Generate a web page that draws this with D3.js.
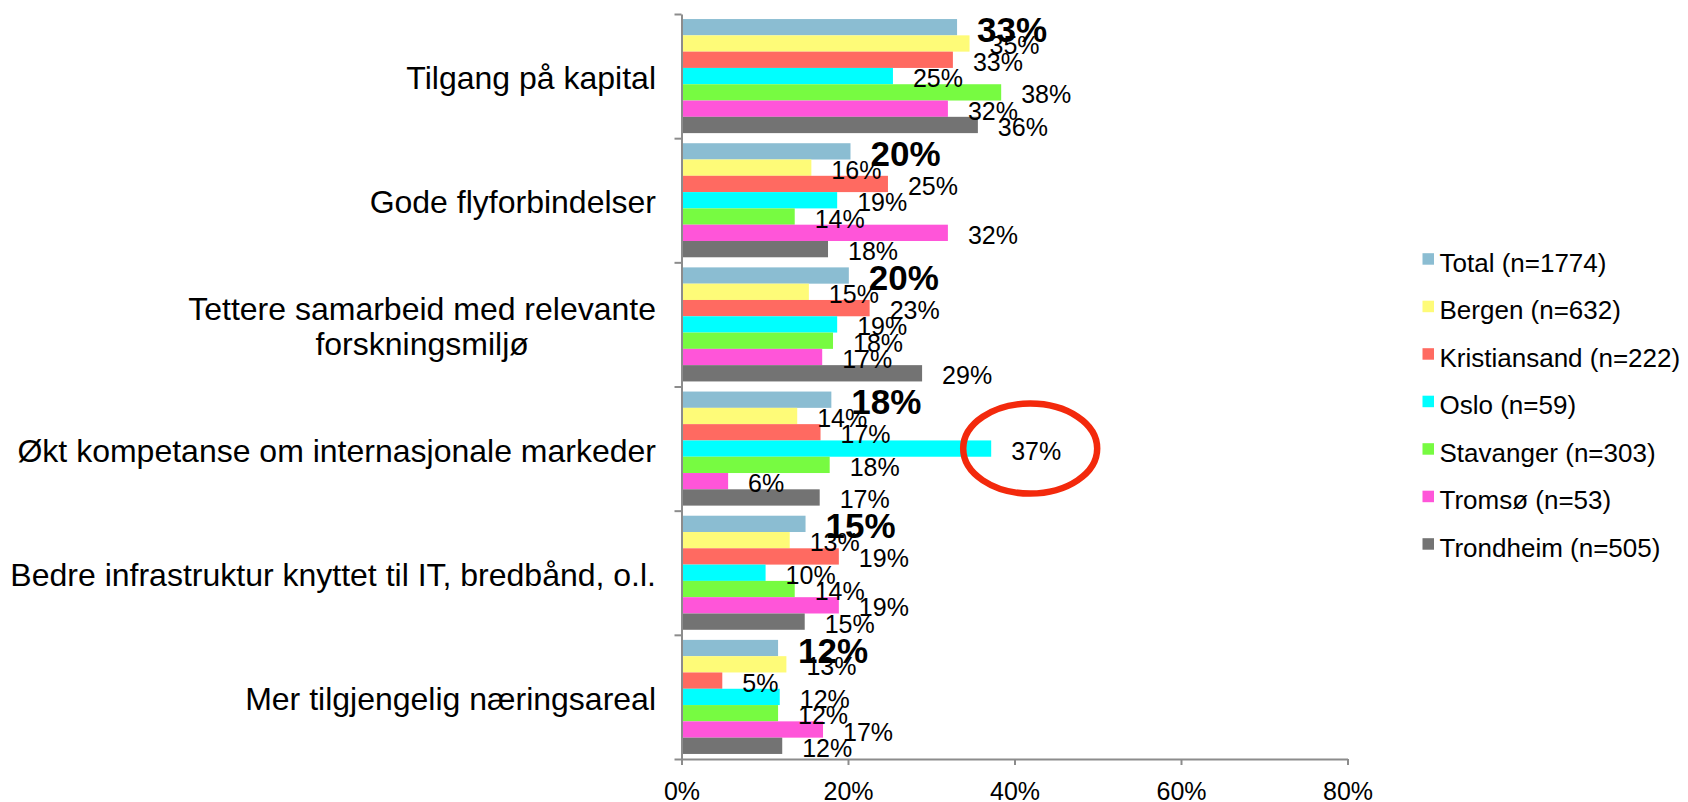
<!DOCTYPE html>
<html>
<head>
<meta charset="utf-8">
<script src="https://cdn.jsdelivr.net/npm/d3@7"></script>
<style>
  body { margin: 0; background: #fff; }
  svg { display: block; font-family: "Liberation Sans", Arial, Helvetica, sans-serif; }
</style>
</head>
<body>
<script>
'use strict';

// categories (top to bottom), "\n" marks the wrapped line
const categories = [
  "Tilgang på kapital",
  "Gode flyforbindelser",
  "Tettere samarbeid med relevante\nforskningsmiljø",
  "Økt kompetanse om internasjonale markeder",
  "Bedre infrastruktur knyttet til IT, bredbånd, o.l.",
  "Mer tilgjengelig næringsareal"
];

const seriesNames = [
  "Total (n=1774)",
  "Bergen (n=632)",
  "Kristiansand (n=222)",
  "Oslo (n=59)",
  "Stavanger (n=303)",
  "Tromsø (n=53)",
  "Trondheim (n=505)"
];

const seriesColors = ["#8bbdd2", "#fefb78", "#ff6a61", "#00ffff", "#77fb41", "#ff55d9", "#737373"];

// percent values, one per category
const total        = [33.1, 20.3, 20.1, 18.0, 14.9, 11.6];
const bergen       = [34.6, 15.6, 15.3, 13.9, 13.0, 12.6];
const kristiansand = [32.6, 24.8, 22.6, 16.7, 18.9, 4.9];
const oslo         = [25.4, 18.7, 18.7, 37.2, 10.1, 11.8];
const stavanger    = [38.4, 13.6, 18.2, 17.8, 13.6, 11.6];
const tromso       = [32.0, 32.0, 16.9, 5.6, 18.9, 17.0];
const trondheim    = [35.6, 17.6, 28.9, 16.6, 14.8, 12.1];

const xTicks = [0, 20, 40, 60, 80];

(function() {
  const seriesValues = [total, bergen, kristiansand, oslo, stavanger, tromso, trondheim];
  const axisColor = "#8c8c8c";

  let svg = d3.select('body')
    .append('svg')
    .attr('width', 1688)
    .attr('height', 802);

  // scales
  let xScale = d3.scaleLinear()
    .domain([0, 80])
    .range([681.5, 1347.5]);

  let yBand = d3.scaleBand()
    .domain(categories)
    .range([14, 759])
    .padding(0);

  let ySeries = d3.scaleBand()
    .domain(seriesNames)
    .range([0, yBand.bandwidth()])
    .paddingInner(0)
    .paddingOuter(0.31);

  let bw = ySeries.bandwidth();

  // bars
  let groups = svg.selectAll('.group')
    .data(categories)
    .enter()
    .append('g')
      .attr('class', 'group')
      .attr('transform', d => 'translate(0,' + yBand(d) + ')');

  groups.selectAll('rect')
    .data((d, i) => seriesNames.map((s, j) => ({ series: s, idx: j, value: seriesValues[j][i] })))
    .enter()
    .append('rect')
      .attr('x', xScale(0))
      .attr('y', d => ySeries(d.series))
      .attr('width', d => xScale(d.value) - xScale(0))
      .attr('height', bw)
      .attr('fill', d => seriesColors[d.idx]);

  // x axis
  let xAxis = d3.axisBottom(xScale)
    .tickValues(xTicks)
    .tickSize(6)
    .tickSizeOuter(0)
    .tickPadding(17)
    .tickFormat(d => d + '%');

  let gx = svg.append('g')
    .attr('transform', 'translate(0, 759)')
    .call(xAxis);
  gx.select('.domain').attr('stroke', axisColor).attr('stroke-width', 2);
  gx.selectAll('.tick line').attr('stroke', axisColor).attr('stroke-width', 2);
  gx.selectAll('.tick text')
    .attr('fill', '#000')
    .style('font-size', '25px')
    .style('font-family', '"Liberation Sans", Arial, sans-serif');

  // y axis with tick marks between categories
  let yEdge = d3.scaleLinear()
    .domain([0, categories.length])
    .range([14, 759]);

  let yAxis = d3.axisLeft(yEdge)
    .tickValues(d3.range(0, categories.length + 1))
    .tickSize(7)
    .tickSizeOuter(0)
    .tickFormat('');

  let gy = svg.append('g')
    .attr('transform', 'translate(681.5, 0)')
    .call(yAxis);
  gy.select('.domain').attr('stroke', axisColor).attr('stroke-width', 2);
  gy.selectAll('.tick line').attr('stroke', axisColor).attr('stroke-width', 2);

  // category labels
  categories.forEach(function(c) {
    let lines = c.split('\n');
    let lh = 34.3;
    let cy = yBand(c) + yBand.bandwidth() / 2;
    let texts = lines.map(function(line, k) {
      return svg.append('text')
        .attr('x', 656)
        .attr('y', cy - (lines.length - 1) * lh / 2 + k * lh + 13)
        .attr('text-anchor', 'end')
        .style('font-size', '32px')
        .attr('fill', '#000')
        .text(line);
    });
    if (lines.length > 1) {
      let maxW = d3.max(texts, t => t.node().getComputedTextLength());
      texts.forEach(t => t.attr('text-anchor', 'middle').attr('x', 656 - maxW / 2));
    }
  });

  // value labels
  groups.selectAll('.val')
    .data((d, i) => seriesNames.map((s, j) => ({ series: s, idx: j, value: seriesValues[j][i] })))
    .enter()
    .append('text')
      .attr('class', 'val')
      .attr('x', d => xScale(d.value) + 20)
      .attr('y', d => ySeries(d.series) + bw / 2 + (d.idx === 0 ? 14.5 : 11))
      .attr('fill', '#000')
      .style('font-size', d => d.idx === 0 ? '35px' : '25px')
      .style('font-weight', d => d.idx === 0 ? 'bold' : 'normal')
      .text(d => Math.round(d.value) + '%');

  // red ellipse around the Oslo bar in "Økt kompetanse ..."
  let hiCat = 3, hiSeries = 3;
  svg.append('ellipse')
    .attr('cx', xScale(oslo[hiCat]) + 39)
    .attr('cy', yBand(categories[hiCat]) + ySeries(seriesNames[hiSeries]) + bw / 2)
    .attr('rx', 67)
    .attr('ry', 45)
    .attr('fill', 'none')
    .attr('stroke', '#f3290c')
    .attr('stroke-width', 6.5);

  // legend
  let legend = svg.append('g')
    .attr('transform', 'translate(1422.5, 0)');

  let items = legend.selectAll('.item')
    .data(seriesNames)
    .enter()
    .append('g')
      .attr('class', 'item')
      .attr('transform', (d, i) => 'translate(0,' + (271.7 + i * 47.5) + ')');

  items.append('rect')
    .attr('x', 0)
    .attr('y', -18.5)
    .attr('width', 11.5)
    .attr('height', 11.5)
    .attr('fill', (d, i) => seriesColors[i]);

  items.append('text')
    .attr('x', 17)
    .attr('y', 0)
    .attr('fill', '#000')
    .style('font-size', '26px')
    .text(d => d);
})();
</script>
</body>
</html>
